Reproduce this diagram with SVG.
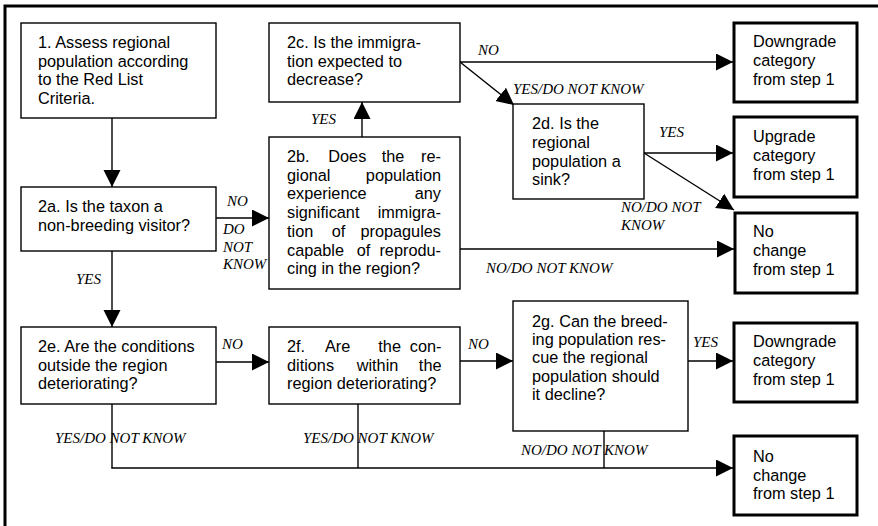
<svg xmlns="http://www.w3.org/2000/svg" width="878" height="526" viewBox="0 0 878 526">
<defs>
<marker id="ah" markerUnits="userSpaceOnUse" markerWidth="18" markerHeight="18" refX="17" refY="8.5" orient="auto">
<path d="M0,0 L17,8.5 L0,17 z" fill="#000"/>
</marker>
<style>
.box{fill:#fff;stroke:#000;stroke-width:1.4}
.tbox{fill:#fff;stroke:#000;stroke-width:3}
.t{font-family:"Liberation Sans",Arial,sans-serif;font-size:16.3px;fill:#000}
.l{font-family:"Liberation Serif","Times New Roman",serif;font-style:italic;font-size:15px;fill:#000}
.c{fill:none;stroke:#000;stroke-width:1.4}
.a{fill:none;stroke:#000;stroke-width:1.4;marker-end:url(#ah)}
</style>
</defs>
<rect x="0" y="0" width="878" height="526" fill="#fff"/>
<rect x="5" y="6" width="900" height="560" fill="none" stroke="#000" stroke-width="3"/>

<g id="connectors">
<line class="a" x1="112" y1="118" x2="112" y2="187"/>
<line class="a" x1="112" y1="251" x2="112" y2="327"/>
<line class="a" x1="216" y1="218" x2="269" y2="218"/>
<line class="a" x1="362" y1="137" x2="362" y2="102"/>
<line class="a" x1="460" y1="62" x2="733" y2="62"/>
<line class="a" x1="460" y1="62" x2="514" y2="105"/>
<line class="a" x1="460" y1="249" x2="734" y2="249"/>
<line class="a" x1="644" y1="153" x2="733" y2="153"/>
<line class="a" x1="644" y1="153" x2="734" y2="210"/>
<line class="a" x1="216" y1="362" x2="269" y2="362"/>
<line class="a" x1="460" y1="361" x2="513" y2="361"/>
<line class="a" x1="688" y1="361" x2="733" y2="361"/>
<line class="c" x1="112" y1="404" x2="112" y2="468"/>
<line class="c" x1="358" y1="404" x2="358" y2="468"/>
<line class="c" x1="604" y1="431" x2="604" y2="468"/>
<line class="a" x1="111.3" y1="468" x2="733" y2="468"/>
<text class="l" x="311" y="124">YES</text>
<text class="l" x="478" y="55">NO</text>
<text class="l" x="513" y="94">YES/DO NOT KNOW</text>
<text class="l" x="659" y="137">YES</text>
<text class="l" x="621" y="212">NO/DO NOT</text>
<text class="l" x="621" y="229.5">KNOW</text>
<text class="l" x="486" y="273">NO/DO NOT KNOW</text>
<text class="l" x="227" y="206">NO</text>
<text class="l" x="223" y="233.5">DO</text>
<text class="l" x="223" y="251.5">NOT</text>
<text class="l" x="223" y="268.5">KNOW</text>
<text class="l" x="76" y="284">YES</text>
<text class="l" x="222" y="349">NO</text>
<text class="l" x="468" y="349">NO</text>
<text class="l" x="693" y="347">YES</text>
<text class="l" x="55" y="443">YES/DO NOT KNOW</text>
<text class="l" x="303" y="443">YES/DO NOT KNOW</text>
<text class="l" x="521" y="455">NO/DO NOT KNOW</text>
</g>

<g id="n1">
<rect class="box" x="21" y="23" width="195" height="95"/>
<text class="t" x="38"><tspan x="38" y="48">1. Assess regional</tspan><tspan x="38" y="66.5">population according</tspan><tspan x="38" y="85">to the Red List</tspan><tspan x="38" y="103.5">Criteria.</tspan></text>
</g>

<g id="n2a">
<rect class="box" x="21" y="187" width="195" height="64"/>
<text class="t"><tspan x="38" y="212">2a. Is the taxon a</tspan><tspan x="38" y="230.5">non-breeding visitor?</tspan></text>
</g>

<g id="n2c">
<rect class="box" x="269" y="23" width="191" height="79"/>
<text class="t"><tspan x="287" y="48">2c. Is the immigra-</tspan><tspan x="287" y="66.5">tion expected to</tspan><tspan x="287" y="85">decrease?</tspan></text>
</g>

<g id="n2b">
<rect class="box" x="269" y="137" width="191" height="152"/>
<text class="t" x="287" y="162">2b.</text>
<text class="t" x="328.3" y="162">Does</text>
<text class="t" x="381.7" y="162">the</text>
<text class="t" x="441" y="162" text-anchor="end">re-</text>
<text class="t" x="287" y="180.7">gional</text>
<text class="t" x="441" y="180.7" text-anchor="end">population</text>
<text class="t" x="287" y="199.4">experience</text>
<text class="t" x="441" y="199.4" text-anchor="end">any</text>
<text class="t" x="287" y="218">significant</text>
<text class="t" x="441" y="218" text-anchor="end">immigra-</text>
<text class="t" x="287" y="236.8">tion</text>
<text class="t" x="331.7" y="236.8">of</text>
<text class="t" x="441" y="236.8" text-anchor="end">propagules</text>
<text class="t" x="287" y="255.5">capable</text>
<text class="t" x="356.7" y="255.5">of</text>
<text class="t" x="441" y="255.5" text-anchor="end">reprodu-</text>
<text class="t" x="287" y="274.3">cing in the region?</text>
</g>

<g id="n2d">
<rect class="box" x="513" y="104" width="131" height="95"/>
<text class="t"><tspan x="532" y="128.5">2d. Is the</tspan><tspan x="532" y="147.5">regional</tspan><tspan x="532" y="166.5">population a</tspan><tspan x="532" y="185">sink?</tspan></text>
</g>

<g id="downgrade1">
<rect class="tbox" x="734" y="23" width="123" height="79"/>
<text class="t"><tspan x="753" y="47">Downgrade</tspan><tspan x="753" y="66">category</tspan><tspan x="753" y="85">from step 1</tspan></text>
</g>

<g id="upgrade">
<rect class="tbox" x="734" y="117" width="123" height="80"/>
<text class="t"><tspan x="753" y="142">Upgrade</tspan><tspan x="753" y="161">category</tspan><tspan x="753" y="180">from step 1</tspan></text>
</g>

<g id="nochange1">
<rect class="tbox" x="735" y="213" width="122" height="80"/>
<text class="t"><tspan x="753" y="237">No</tspan><tspan x="753" y="256">change</tspan><tspan x="753" y="275">from step 1</tspan></text>
</g>

<g id="n2e">
<rect class="box" x="21" y="327" width="195" height="77"/>
<text class="t"><tspan x="38" y="352">2e. Are the conditions</tspan><tspan x="38" y="370.5">outside the region</tspan><tspan x="38" y="389">deteriorating?</tspan></text>
</g>

<g id="n2f">
<rect class="box" x="269" y="327" width="191" height="77"/>
<text class="t" x="287" y="352">2f.</text>
<text class="t" x="325" y="352">Are</text>
<text class="t" x="378.3" y="352">the</text>
<text class="t" x="441.5" y="352" text-anchor="end">con-</text>
<text class="t" x="287" y="370.5">ditions</text>
<text class="t" x="356.7" y="370.5">within</text>
<text class="t" x="441.5" y="370.5" text-anchor="end">the</text>
<text class="t" x="287" y="389">region deteriorating?</text>
</g>

<g id="n2g">
<rect class="box" x="513" y="301" width="175" height="130"/>
<text class="t"><tspan x="532" y="327">2g. Can the breed-</tspan><tspan x="532" y="345">ing population res-</tspan><tspan x="532" y="363.3">cue the regional</tspan><tspan x="532" y="381.6">population should</tspan><tspan x="532" y="400">it decline?</tspan></text>
</g>

<g id="downgrade2">
<rect class="tbox" x="734" y="323" width="123" height="79"/>
<text class="t"><tspan x="753" y="347">Downgrade</tspan><tspan x="753" y="366">category</tspan><tspan x="753" y="385">from step 1</tspan></text>
</g>

<g id="nochange2">
<rect class="tbox" x="734" y="436" width="123" height="79"/>
<text class="t"><tspan x="753" y="462">No</tspan><tspan x="753" y="480.5">change</tspan><tspan x="753" y="499">from step 1</tspan></text>
</g>
</svg>
